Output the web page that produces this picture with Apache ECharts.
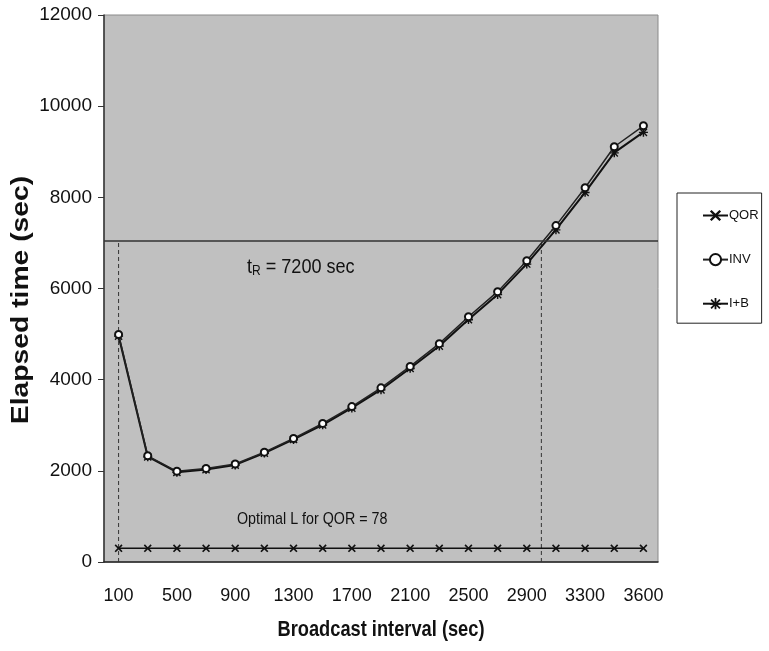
<!DOCTYPE html>
<html>
<head>
<meta charset="utf-8">
<script src="https://cdn.jsdelivr.net/npm/echarts@6/dist/echarts.min.js"></script>
<style>
  html, body { margin: 0; padding: 0; background: #fff; }
  #chart { width: 769px; height: 651px; }
</style>
</head>
<body>
<div id="chart"></div>
<script>
// broadcast interval categories (sec)
const intervals = ['100', '300', '500', '700', '900', '1100', '1300', '1500', '1700', '1900',
  '2100', '2300', '2500', '2700', '2900', '3100', '3300', '3500', '3600']
// elapsed time (sec)
const qor = [300, 300, 300, 300, 300, 300, 300, 300, 300, 300, 300, 300, 300, 300, 300, 300, 300, 300, 300]
const inv = [4990, 2330, 1990, 2050, 2150, 2410, 2710, 3040, 3410, 3820, 4290, 4790, 5380, 5930, 6610, 7380, 8210, 9110, 9570]
const ib = [4960, 2310, 1970, 2030, 2130, 2390, 2690, 3010, 3380, 3780, 4250, 4740, 5320, 5870, 6540, 7290, 8110, 8980, 9430]
// horizontal t_R line and the two dashed markers (category index)
const tR = 7050
const dashedAt = [0, 14.5]

const font = "'Liberation Sans', Arial, sans-serif"
const xMark = 'path://M0,1.5 L1.5,0 L5,3.5 L8.5,0 L10,1.5 L6.5,5 L10,8.5 L8.5,10 L5,6.5 L1.5,10 L0,8.5 L3.5,5 Z'
const starMark = 'path://M4.2,0 H5.8 V3.4 L8.4,0.8 L9.5,1.9 L6.9,4.5 H10 V6 H6.9 L9.5,8.6 L8.4,9.7 L5.8,7.1 V10 H4.2 V7.1 L1.6,9.7 L0.5,8.6 L3.1,6 H0 V4.5 H3.1 L0.5,1.9 L1.6,0.8 L4.2,3.4 Z'

const chart = echarts.init(document.getElementById('chart'))

let dashedSeries = dashedAt.map(function (i) {
  return {
    name: 'cut' + i,
    type: 'line',
    xAxisIndex: 1,
    symbol: 'none',
    silent: true,
    lineStyle: { color: '#333', width: 1, type: [4, 3] },
    data: [[i, 0], [i, tR]],
    z: 1
  }
})

let option = {
  animation: false,
  backgroundColor: '#fff',
  textStyle: { fontFamily: font },
  grid: {
    left: 104,
    right: 111,
    top: 15,
    bottom: 89,
    containLabel: false,
    outerBoundsMode: 'none',
    show: true,
    backgroundColor: '#c0c0c0',
    borderColor: '#8a8a8a',
    borderWidth: 1
  },
  legend: {
    data: ['QOR', 'INV', 'I+B'],
    orient: 'vertical',
    left: 677,
    top: 193,
    padding: [16, 3, 13, 25],
    itemGap: 31,
    itemWidth: 25,
    itemHeight: 14,
    backgroundColor: '#fff',
    borderColor: '#222',
    borderWidth: 1,
    textStyle: { fontFamily: font, fontSize: 13, color: '#111', padding: [0, 0, 0, -4] }
  },
  xAxis: [{
    type: 'category',
    data: intervals,
    boundaryGap: true,
    axisLine: { onZero: false, lineStyle: { color: '#222', width: 1.5 } },
    axisTick: { length: 7, lineStyle: { color: '#333' } },
    axisLabel: { interval: 1, margin: 25, fontSize: 18, color: '#111' },
    splitLine: { show: false }
  }, {
    type: 'value',
    show: false,
    min: -0.5,
    max: intervals.length - 0.5
  }],
  yAxis: {
    type: 'value',
    min: 0,
    max: 12000,
    interval: 2000,
    axisLine: { show: true, onZero: false, lineStyle: { color: '#333', width: 1.5 } },
    axisTick: { show: true, length: 6, lineStyle: { color: '#333' } },
    axisLabel: { margin: 12, fontSize: 19, color: '#111', formatter: function (v) { return String(v) } },
    splitLine: { show: false }
  },
  series: [{
    name: 'QOR',
    type: 'line',
    data: qor,
    symbol: xMark,
    symbolSize: 8,
    itemStyle: { color: '#111' },
    lineStyle: { color: '#111', width: 1.5 },
    z: 3
  }, {
    name: 'I+B',
    type: 'line',
    data: ib,
    symbol: starMark,
    symbolSize: 9,
    itemStyle: { color: '#111' },
    lineStyle: { color: '#111', width: 2 },
    z: 3
  }, {
    name: 'INV',
    type: 'line',
    data: inv,
    symbol: 'emptyCircle',
    symbolSize: 7,
    itemStyle: { color: '#111', borderColor: '#111', borderWidth: 1.2 },
    lineStyle: { color: '#222', width: 1.5 },
    z: 4,
    markLine: {
      silent: true,
      symbol: 'none',
      label: { show: false },
      lineStyle: { color: '#333', width: 1.5, type: 'solid' },
      data: [{ yAxis: tR }]
    }
  }].concat(dashedSeries),
  graphic: [{
    // y axis title
    type: 'text',
    x: 22,
    y: 300,
    rotation: Math.PI / 2,
    scaleX: 1.23,
    style: {
      text: 'Elapsed time (sec)',
      font: 'bold 23px ' + font,
      fill: '#111',
      align: 'center',
      verticalAlign: 'middle'
    }
  }, {
    // x axis title
    type: 'text',
    x: 381,
    y: 630,
    scaleX: 0.83,
    style: {
      text: 'Broadcast interval (sec)',
      font: 'bold 22px ' + font,
      fill: '#111',
      align: 'center',
      verticalAlign: 'middle'
    }
  }, {
    type: 'text',
    x: 247,
    y: 256,
    scaleX: 0.86,
    style: {
      text: '{t|t}{sub|R}{t| = 7200 sec}',
      rich: {
        t: { fontFamily: font, fontSize: 21, fill: '#111' },
        sub: { fontFamily: font, fontSize: 14, fill: '#111', verticalAlign: 'bottom', padding: [8, 0, 0, 0] }
      }
    }
  }, {
    type: 'text',
    x: 237,
    y: 511,
    scaleX: 0.84,
    style: {
      text: 'Optimal L for QOR = 78',
      fontFamily: font,
      fontSize: 17,
      fill: '#111'
    }
  }]
}

chart.setOption(option)
</script>
</body>
</html>
